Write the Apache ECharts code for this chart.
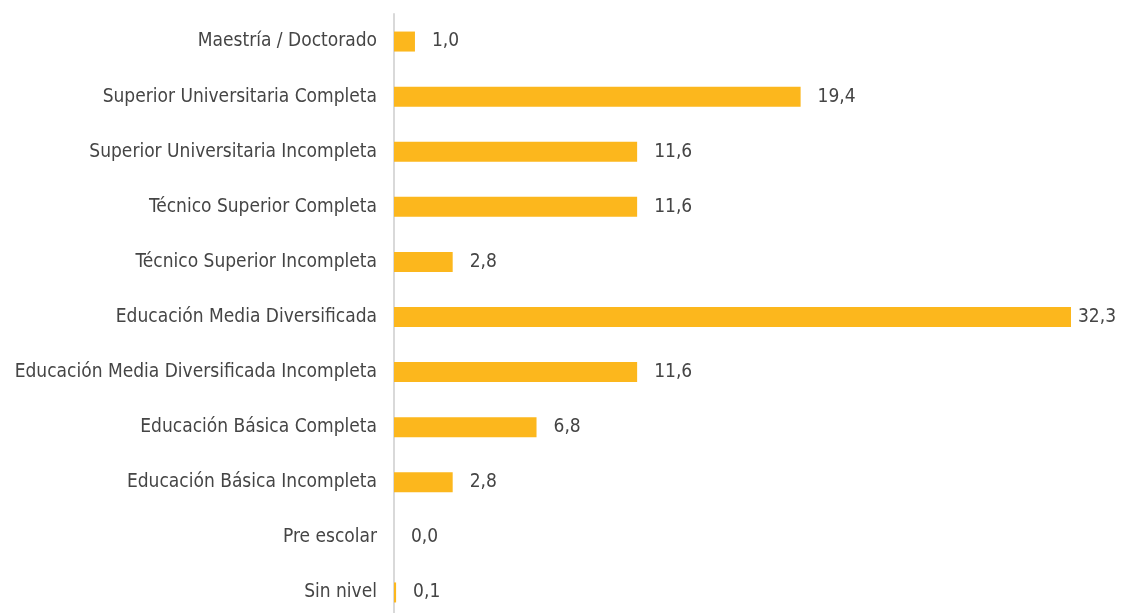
<!DOCTYPE html>
<html>
<head>
<meta charset="utf-8">
<script src="https://cdn.jsdelivr.net/npm/echarts@6/dist/echarts.min.js"></script>
<style>
  html, body { margin: 0; padding: 0; background: #fff; }
  #chart { width: 1121px; height: 613px; }
</style>
</head>
<body>
<div id="chart"></div>
<script>
// niveles educativos, de arriba hacia abajo
var categories = [
    'Maestría / Doctorado',
    'Superior Universitaria Completa',
    'Superior Universitaria Incompleta',
    'Técnico Superior Completa',
    'Técnico Superior Incompleta',
    'Educación Media Diversificada',
    'Educación Media Diversificada Incompleta',
    'Educación Básica Completa',
    'Educación Básica Incompleta',
    'Pre escolar',
    'Sin nivel'
];
var values = [1.0, 19.4, 11.6, 11.6, 2.8, 32.3, 11.6, 6.8, 2.8, 0.0, 0.1];

var font = '"Liberation Sans Narrow", "DejaVu Sans Condensed", sans-serif';
var maxVal = Math.max.apply(null, values);

var chart = echarts.init(document.getElementById('chart'));
var option = {
    animation: false,
    grid: {
        left: 394,
        top: 14,
        width: 677,
        height: 606,
        outerBoundsMode: 'none'
    },
    xAxis: {
        type: 'value',
        min: 0,
        max: maxVal,
        show: false
    },
    yAxis: {
        type: 'category',
        inverse: true,
        data: categories,
        axisLine: { lineStyle: { color: '#d9d9d9', width: 2 } },
        axisTick: { show: false },
        axisLabel: {
            margin: 17,
            fontSize: 19,
            color: '#454545',
            fontFamily: font
        }
    },
    series: [{
        type: 'bar',
        barWidth: 20,
        itemStyle: { color: '#fcb71d' },
        data: values.map(function (v) {
            return {
                value: v,
                label: { distance: v === maxVal ? 7 : 17 }
            };
        }),
        label: {
            show: true,
            position: 'right',
            fontSize: 19,
            color: '#454545',
            fontFamily: font,
            formatter: function (p) {
                return p.value.toFixed(1).replace('.', ',');
            }
        }
    }]
};
chart.setOption(option);
</script>
</body>
</html>
